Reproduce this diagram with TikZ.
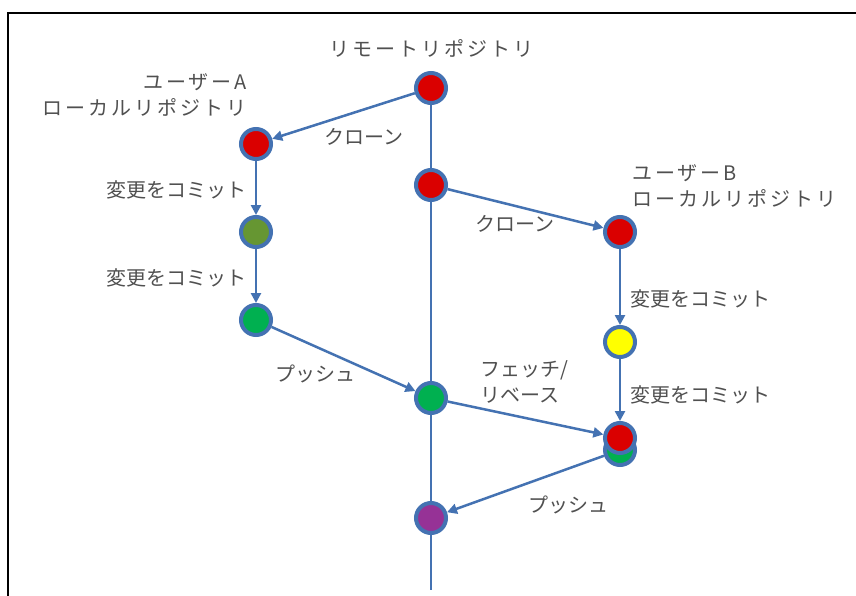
\documentclass[tikz,border=0pt]{standalone}
\usepackage{fontspec}
\newfontfamily\jp{Noto Sans CJK JP}
\newfontfamily\jpw[LetterSpace=15]{Noto Sans CJK JP}
\usetikzlibrary{arrows.meta}
\definecolor{lineblue}{RGB}{68,114,178}
\definecolor{txt}{RGB}{80,80,80}
\definecolor{cred}{RGB}{218,0,0}
\definecolor{colive}{RGB}{102,150,50}
\definecolor{cgreen}{RGB}{0,176,80}
\definecolor{cyellow}{RGB}{255,255,0}
\definecolor{cpurple}{RGB}{150,50,150}
\begin{document}
\begin{tikzpicture}[x=1pt,y=-1pt,
  commit/.style={circle,draw=lineblue,line width=4pt,minimum size=30pt,inner sep=0pt},
  conn/.style={draw=lineblue,line width=2.5pt},
  arr/.style={conn,-{Triangle[length=10pt,width=10pt]}},
  lbl/.style={font=\jp\fontsize{20}{26}\selectfont,text=txt,inner sep=0pt},
  wlbl/.style={lbl,font=\jpw\fontsize{20}{26}\selectfont}]
\useasboundingbox (0,0) rectangle (856,596);
\fill[white] (0,0) rectangle (856,596);
\draw[line width=2.5pt] (8,597) -- (8,13) -- (857,13);
% remote
\node[commit,fill=cred] (R1) at (431,88) {};
\node[commit,fill=cred] (R2) at (431,185) {};
\node[commit,fill=cgreen] (R3) at (431,398) {};
\node[commit,fill=cpurple] (R4) at (431,518) {};
\coordinate (Rend) at (431,590);
% user A
\node[commit,fill=cred] (A1) at (256,144) {};
\node[commit,fill=colive] (A2) at (256,232) {};
\node[commit,fill=cgreen] (A3) at (256,320) {};
% user B
\node[commit,fill=cred] (B1) at (620,232) {};
\node[commit,fill=cyellow] (B2) at (620,342) {};
\node[commit,fill=cgreen] (B3g) at (620,450) {};
\node[commit,fill=cred] (B3) at (620,438) {};
% connectors
\draw[conn] (R1) -- (R2);
\draw[conn] (R2) -- (R3);
\draw[conn] (R3) -- (R4);
\draw[conn] (R4) -- (Rend);
\draw[arr] (R1) -- (A1);
\draw[arr] (A1) -- (A2);
\draw[arr] (A2) -- (A3);
\draw[arr] (A3) -- (R3);
\draw[arr] (R2) -- (B1);
\draw[arr] (B1) -- (B2);
\draw[arr] (B2) -- (B3);
\draw[arr] (R3) -- (B3);
\draw[arr] (B3g) -- (R4);
% labels
\node[wlbl] (tR) at (431,48) {リモートリポジトリ};
\node[wlbl,anchor=east,align=right] (tA) at (247,95) {ユーザーA\\ローカルリポジトリ};
\node[wlbl,anchor=west,align=left] (tB) at (632,186) {ユーザーB\\ローカルリポジトリ};
\node[lbl] (cl1) at (364,137) {クローン};
\node[lbl] (cl2) at (515,224) {クローン};
\node[lbl,anchor=east] (cmA1) at (247,190) {変更をコミット};
\node[lbl,anchor=east] (cmA2) at (247,278) {変更をコミット};
\node[lbl,anchor=west] (cmB1) at (630,299) {変更をコミット};
\node[lbl,anchor=west] (cmB2) at (630,395) {変更をコミット};
\node[lbl] (ps1) at (315,374) {プッシュ};
\node[lbl] (ps2) at (568,505) {プッシュ};
\node[lbl,anchor=west,align=left] (fr) at (480,382) {フェッチ/\\リベース};
\end{tikzpicture}
\end{document}
